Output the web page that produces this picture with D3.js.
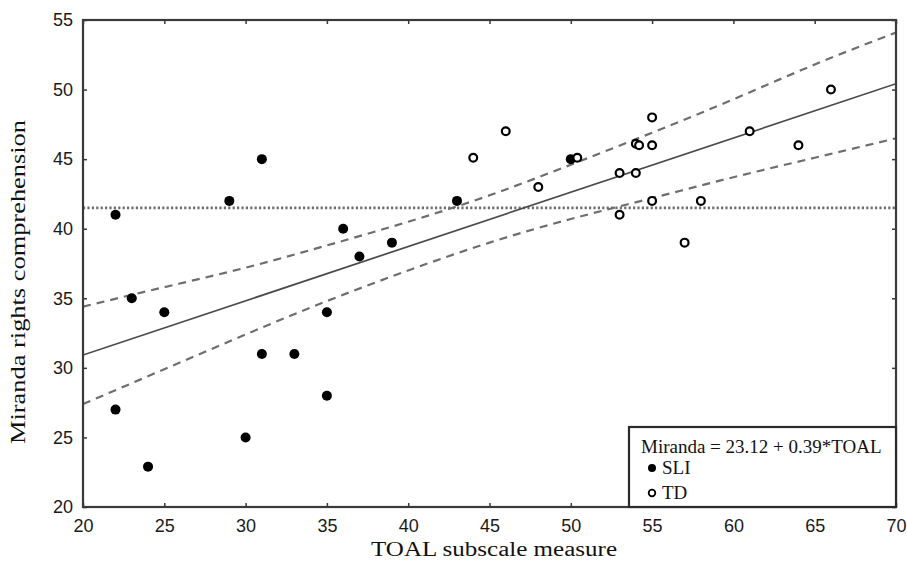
<!DOCTYPE html>
<html>
<head>
<meta charset="utf-8">
<script src="https://cdn.jsdelivr.net/npm/d3@7"></script>
<style>
  html, body { margin: 0; padding: 0; background: #fff; }
  svg { display: block; }
</style>
</head>
<body>
<svg id="chart" width="907" height="562"></svg>
<script>
// ---- data ----
const xTicks = [20, 25, 30, 35, 40, 45, 50, 55, 60, 65, 70];
const yTicks = [20, 25, 30, 35, 40, 45, 50, 55];

const sliX = [22, 22, 23, 24, 25, 29, 30, 31, 31, 33, 35, 35, 36, 37, 39, 43, 50];
const sliY = [41, 27, 35, 22.9, 34, 42, 25, 45, 31, 31, 34, 28, 40, 38, 39, 42, 45];

const tdX = [44, 46, 48, 50.4, 53, 53, 54, 54.2, 54, 55, 55, 55, 57, 58, 61, 64, 66];
const tdY = [45.1, 47, 43, 45.1, 44, 41, 46.1, 46, 44, 48, 46, 42, 39, 42, 47, 46, 50];

const fitX = [20, 70];
const fitY = [30.92, 50.42];

const bandX = [20, 25, 30, 35, 40, 45, 50, 55, 60, 65, 70];
const bandUpper = [34.4, 35.8, 37.2, 38.8, 40.5, 42.4, 44.6, 46.9, 49.3, 51.8, 54.1];
const bandLower = [27.4, 29.9, 32.4, 34.8, 37.0, 39.0, 40.7, 42.2, 43.7, 45.1, 46.5];

const meanY = 41.5;

const legendLines = ["Miranda = 23.12 + 0.39*TOAL", "SLI", "TD"];
const xTitle = "TOAL subscale measure";
const yTitle = "Miranda rights comprehension";

// ---- layout ----
const L = 83, R = 896, T = 20, B = 507;
const svg = d3.select("#chart");
const x = d3.scaleLinear().domain([20, 70]).range([L, R]);
const y = d3.scaleLinear().domain([20, 55]).range([B, T]);

const frameColor = "#3a3a3a";
const tickFont = "'Liberation Sans', Arial, sans-serif";
const serif = "'Liberation Serif', 'Times New Roman', serif";

// axes (inward ticks)
function styleAxis(g) {
  g.select(".domain").remove();
  g.selectAll(".tick line").attr("stroke", frameColor).attr("stroke-width", 1.5);
  g.selectAll(".tick text").attr("fill", "#1a1a1a")
    .style("font-family", tickFont).style("font-size", "18px");
}
svg.append("g").attr("transform", `translate(0,${B})`)
  .call(d3.axisBottom(x).tickValues(xTicks).tickSize(-4).tickPadding(12))
  .call(styleAxis);
svg.append("g").attr("transform", `translate(${L},0)`)
  .call(d3.axisLeft(y).tickValues(yTicks).tickSize(-4).tickPadding(10))
  .call(styleAxis);
svg.append("g").attr("transform", `translate(0,${T})`)
  .call(d3.axisTop(x).tickValues(xTicks).tickSize(-4).tickFormat(""))
  .call(styleAxis);
svg.append("g").attr("transform", `translate(${R},0)`)
  .call(d3.axisRight(y).tickValues(yTicks).tickSize(-4).tickFormat(""))
  .call(styleAxis);

// clip
svg.append("clipPath").attr("id", "clip")
  .append("rect").attr("x", L).attr("y", T).attr("width", R - L).attr("height", B - T);
const plot = svg.append("g").attr("clip-path", "url(#clip)");

// mean dotted line
plot.append("line")
  .attr("x1", x(20)).attr("x2", x(70))
  .attr("y1", y(meanY)).attr("y2", y(meanY))
  .attr("stroke", "#6e6e6e").attr("stroke-width", 2.6)
  .attr("stroke-dasharray", "2.2,2.2");

// confidence band (dashed)
const bandLine = d3.line().x(d => x(d[0])).y(d => y(d[1])).curve(d3.curveNatural);
[bandUpper, bandLower].forEach(arr => {
  plot.append("path")
    .attr("d", bandLine(bandX.map((v, i) => [v, arr[i]])))
    .attr("fill", "none").attr("stroke", "#6e6e6e").attr("stroke-width", 2.2)
    .attr("stroke-dasharray", "8,6");
});

// regression line
plot.append("path")
  .attr("d", d3.line().x(d => x(d[0])).y(d => y(d[1]))(fitX.map((v, i) => [v, fitY[i]])))
  .attr("fill", "none").attr("stroke", "#4a4a4a").attr("stroke-width", 1.7);

// points
plot.selectAll("circle.sli").data(sliX.map((v, i) => [v, sliY[i]])).join("circle")
  .attr("class", "sli")
  .attr("cx", d => x(d[0])).attr("cy", d => y(d[1])).attr("r", 5)
  .attr("fill", "#000");
plot.selectAll("circle.td").data(tdX.map((v, i) => [v, tdY[i]])).join("circle")
  .attr("class", "td")
  .attr("cx", d => x(d[0])).attr("cy", d => y(d[1])).attr("r", 3.9)
  .attr("fill", "#fff").attr("stroke", "#000").attr("stroke-width", 2.2);

// frame
svg.append("rect").attr("x", L).attr("y", T).attr("width", R - L).attr("height", B - T)
  .attr("fill", "none").attr("stroke", frameColor).attr("stroke-width", 2.2);

// legend
const lg = svg.append("g");
lg.append("rect").attr("x", 629).attr("y", 427).attr("width", R - 629).attr("height", B - 427)
  .attr("fill", "#fff").attr("stroke", "#2a2a2a").attr("stroke-width", 2.2);
lg.append("text").attr("x", 641).attr("y", 453).text(legendLines[0])
  .style("font-family", serif).style("font-size", "19px").attr("fill", "#111");
lg.append("circle").attr("cx", 652).attr("cy", 468).attr("r", 4).attr("fill", "#000");
lg.append("text").attr("x", 662).attr("y", 474).text(legendLines[1])
  .style("font-family", serif).style("font-size", "19px").attr("fill", "#111");
lg.append("circle").attr("cx", 652).attr("cy", 493).attr("r", 3.3)
  .attr("fill", "#fff").attr("stroke", "#000").attr("stroke-width", 1.8);
lg.append("text").attr("x", 662).attr("y", 499).text(legendLines[2])
  .style("font-family", serif).style("font-size", "19px").attr("fill", "#111");

// axis titles
svg.append("text").attr("x", 494).attr("y", 556).attr("text-anchor", "middle")
  .attr("textLength", 246).attr("lengthAdjust", "spacingAndGlyphs")
  .text(xTitle).style("font-family", serif).style("font-size", "20px").attr("fill", "#111");
svg.append("text").attr("transform", "translate(25,282) rotate(-90)").attr("text-anchor", "middle")
  .attr("textLength", 324).attr("lengthAdjust", "spacingAndGlyphs")
  .text(yTitle).style("font-family", serif).style("font-size", "22px").attr("fill", "#111");
</script>
</body>
</html>
